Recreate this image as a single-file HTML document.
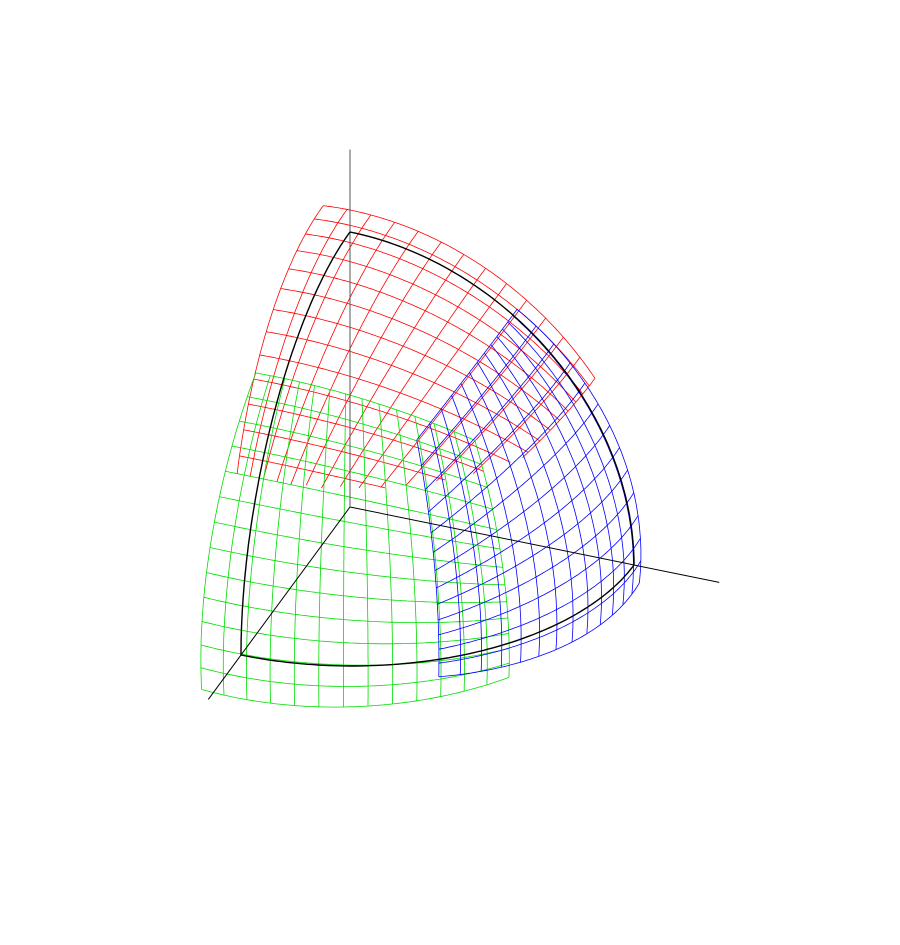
<!DOCTYPE html>
<html><head><meta charset="utf-8"><style>
html,body{margin:0;padding:0;background:#fff;}
svg{display:block;}
</style></head><body>
<svg id="c" width="900" height="945" viewBox="0 0 900 945"></svg>
<script>
// data
const patchNames = ['red-patch','green-patch','blue-patch'];
const patchColors = ['#ff0000','#00dd00','#0000ff'];
const patchAxes = [2,0,1];            // dominant axis: z, x, y
const paramALo = [0,-6,-4];
const paramAHi = [58,50,52];
const paramBLo = [-5,-6,-6];
const paramBHi = [53,51,55];
const gridLineCount = [14,14,14];
const patchRadius = [1.08,1.08,1.0];
const capAngleDeg = [57,90,90];
const arcRadius = [1];
const axisLength = [1.3,1.3,1.3];

const NS='http://www.w3.org/2000/svg';
const svg=document.getElementById('c');
const O=[350,507], EX=[-109,148], EY=[284,58], EZ=[0,-275];
function proj(p){return [O[0]+p[0]*EX[0]+p[1]*EY[0]+p[2]*EZ[0], O[1]+p[0]*EX[1]+p[1]*EY[1]+p[2]*EZ[1]];}
function poly(pts,color,w,name){
  if(pts.length<2)return;
  const e=document.createElementNS(NS,'polyline');
  e.setAttribute('points',pts.map(p=>p[0].toFixed(1)+','+p[1].toFixed(1)).join(' '));
  e.setAttribute('fill','none');e.setAttribute('stroke',color);e.setAttribute('stroke-width',w);
  
  
  svg.appendChild(e);
}
function pt(axis,a,b,r){
  const t=[Math.tan(a*Math.PI/180),Math.tan(b*Math.PI/180)];
  let v;
  if(axis===2)v=[t[0],t[1],1];else if(axis===0)v=[1,t[0],t[1]];else v=[t[0],1,t[1]];
  const n=Math.hypot(v[0],v[1],v[2]);
  return [v[0]/n*r,v[1]/n*r,v[2]/n*r];
}
function inCap(p,axis,r,cap){return p[axis]/r>=Math.cos(cap*Math.PI/180)-1e-9;}
function lines(lo,hi,n){const a=[];for(let k=0;k<n;k++)a.push(lo+(hi-lo)*k/(n-1));return a;}
patchNames.forEach((nm,i)=>{
  const ax=patchAxes[i],r=patchRadius[i],cap=capAngleDeg[i];
  const aL=paramALo[i],aH=paramAHi[i],bL=paramBLo[i],bH=paramBHi[i];
  lines(aL,aH,gridLineCount[i]).forEach(g=>{
    let seg=[];
    for(let k=0;k<=120;k++){
      const s=bL+(bH-bL)*k/120;const p=pt(ax,g,s,r);
      if(inCap(p,ax,r,cap))seg.push(proj(p));else{poly(seg,patchColors[i],0.8,nm+'-gridline');seg=[];}
    }
    poly(seg,patchColors[i],0.8,nm+'-gridline');
  });
  lines(bL,bH,gridLineCount[i]).forEach(g=>{
    let seg=[];
    for(let k=0;k<=120;k++){
      const s=aL+(aH-aL)*k/120;const p=pt(ax,s,g,r);
      if(inCap(p,ax,r,cap))seg.push(proj(p));else{poly(seg,patchColors[i],0.8,nm+'-gridline');seg=[];}
    }
    poly(seg,patchColors[i],0.8,nm+'-gridline');
  });
});
const ends=[[axisLength[0],0,0],[0,axisLength[1],0],[0,0,axisLength[2]]];
['x-axis','y-axis','z-axis'].forEach((n,i)=>poly([proj([0,0,0]),proj(ends[i])],i===2?'#555':'#000',1,n));
const planes=[[0,2],[1,2],[0,1]];
planes.forEach((pl,i)=>{
  const pts=[];
  for(let k=0;k<=90;k++){const a=k*Math.PI/180;const p=[0,0,0];p[pl[0]]=Math.cos(a)*arcRadius[0];p[pl[1]]=Math.sin(a)*arcRadius[0];pts.push(proj(p));}
  poly(pts,'#000',1.4,'unit-arc-'+i);
});
</script>
</body></html>
